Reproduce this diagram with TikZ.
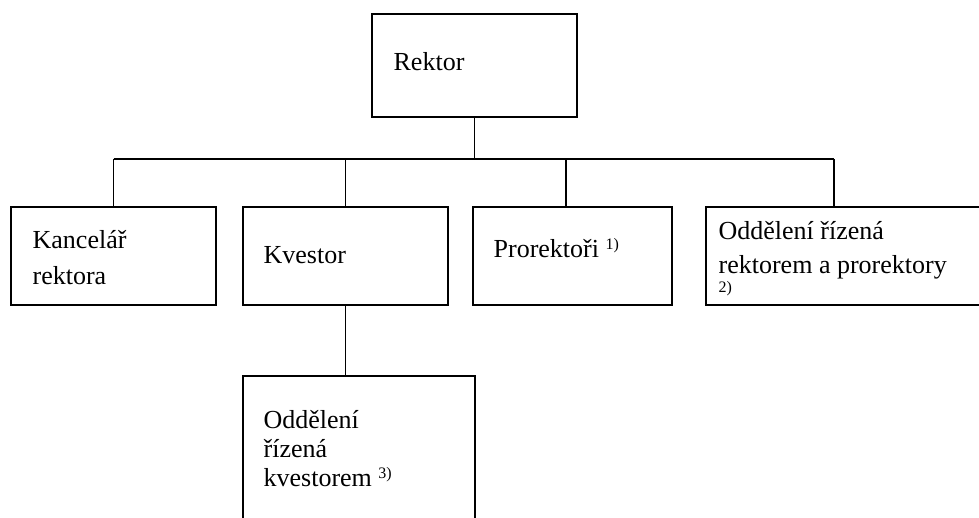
\documentclass[tikz,border=0pt]{standalone}
\usepackage{fontspec}
\setmainfont{Liberation Serif}

\begin{document}
\begin{tikzpicture}[x = 1pt, y = -1pt, line width = 1.3pt]
\tikzstyle{BoxStyle} = [shape = rectangle, draw, inner sep = 0pt, outer sep = 0pt]
\tikzstyle{TextStyle} = [anchor = base west, inner sep = 0pt, align = left, font = \fontsize{26}{36}\selectfont]
\useasboundingbox (0,0) rectangle (979,518);
\clip (0,0) rectangle (979,518);
\node[BoxStyle, minimum width = 205pt, minimum height = 103pt] (v0) at (474.5,65.5) {};
\node[BoxStyle, minimum width = 205pt, minimum height = 98pt] (v1) at (113.5,256) {};
\node[BoxStyle, minimum width = 205pt, minimum height = 98pt] (v2) at (345.5,256) {};
\node[BoxStyle, minimum width = 199pt, minimum height = 98pt] (v3) at (572.5,256) {};
\node[BoxStyle, minimum width = 284pt, minimum height = 98pt] (v4) at (848,256) {};
\node[BoxStyle, minimum width = 232pt, minimum height = 164pt] (v5) at (359,458) {};
\node[TextStyle] (t0) at (393,71) {Rektor};
\node[TextStyle] (t1) at (32,285) {Kancelář\\rektora};
\node[TextStyle] (t2) at (263,264) {Kvestor};
\node[TextStyle] (t3) at (493,258) {Prorektoři \raisebox{8pt}{\fontsize{16}{16}\selectfont 1)}};
\node[TextStyle, font = \fontsize{26}{34}\selectfont] (t4) at (718,293) {Oddělení řízená\\rektorem a prorektory\\[-15pt]{\fontsize{16}{16}\selectfont 2)}};
\node[TextStyle, font = \fontsize{26}{29}\selectfont] (t5) at (263,486) {Oddělení\\řízená\\kvestorem \raisebox{8pt}{\fontsize{16}{16}\selectfont 3)}};
\coordinate (j0) at (474.5,159);
\coordinate (j1) at (113.5,159);
\coordinate (j2) at (345.5,159);
\coordinate (j3) at (566,159);
\coordinate (j4) at (834,159);
\draw (v0.south) -- (j0);
\draw (j1) -- (j4);
\draw (j1) -- (v1.north);
\draw (j2) -- (v2.north);
\draw (j3) -- (j3 |- v3.north);
\draw (j4) -- (j4 |- v4.north);
\draw (v2.south) -- (v2.south |- v5.north);
\end{tikzpicture}
\end{document}
